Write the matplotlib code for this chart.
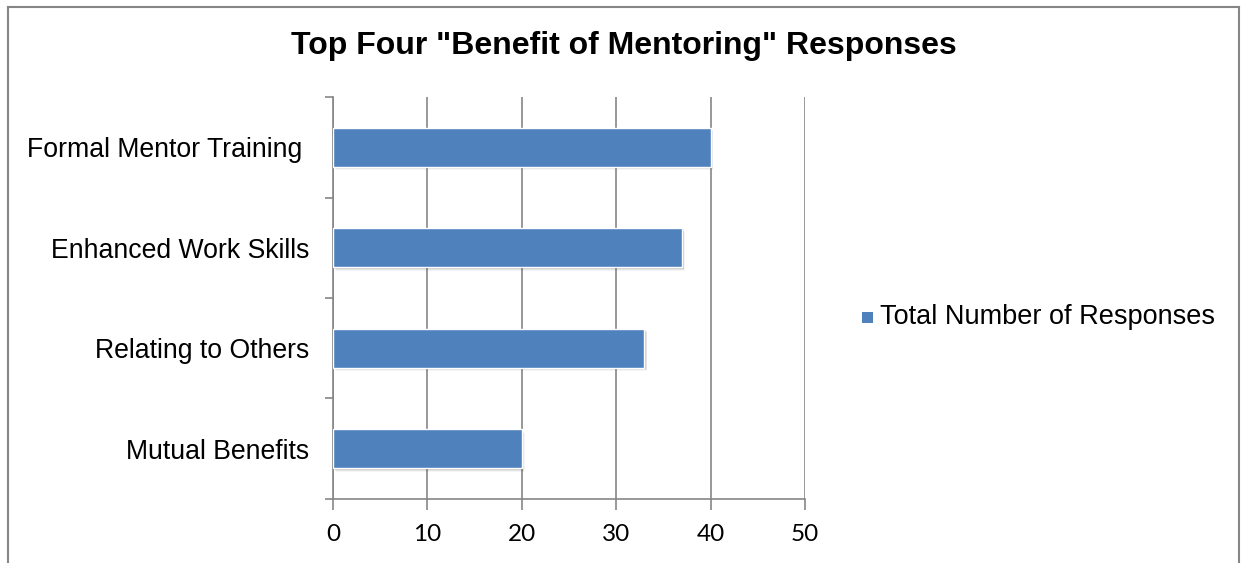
import matplotlib
matplotlib.use('Agg')
import matplotlib.pyplot as plt
from matplotlib.lines import Line2D
from matplotlib.patches import Rectangle
import numpy as np

categories = ["Mutual Benefits", "Relating to Others", "Enhanced Work Skills", "Formal Mentor Training "]
responses = [20, 33, 37, 40]
x_ticks = [0, 10, 20, 30, 40, 50]
series_name = "Total Number of Responses"

BAR_COLOR = '#4F81BD'
AXIS_GRAY = '#868686'

plt.rcParams['font.family'] = ['Liberation Sans', 'DejaVu Sans']

fig = plt.figure(figsize=(12.48, 5.63), dpi=100)
ax = fig.add_axes([0.2668, 0.1137, 0.3782, 0.714])

y = np.arange(len(categories))
bar_h = 0.39

# soft drop shadow under each bar
for yi, v in zip(y, responses):
    for k, a in enumerate([0.10, 0.07, 0.04]):
        off = 0.012 * (k + 1)
        ax.add_patch(Rectangle((0.15 + 0.08 * k, yi - bar_h / 2 - off), v, bar_h,
                               facecolor='black', alpha=a, edgecolor='none', zorder=2))

ax.barh(y, responses, height=bar_h, color=BAR_COLOR, edgecolor='white', linewidth=1.0, zorder=3)

ax.set_xlim(0, 50)
ax.set_ylim(-0.5, len(categories) - 0.5)
ax.set_xticks(x_ticks)
ax.set_xticklabels([str(t) for t in x_ticks], fontsize=17.5, family=['Lato', 'DejaVu Sans'])

# category labels between the boundary ticks
ax.set_yticks(np.arange(-0.5, len(categories), 1.0))
ax.set_yticklabels([])
ax.set_yticks(y, minor=True)
ax.set_yticklabels(categories, minor=True, fontsize=19.2)
ax.tick_params(axis='y', which='minor', length=0, pad=17)
ax.tick_params(axis='y', which='major', length=6, width=1.2, color=AXIS_GRAY, direction='out')
ax.tick_params(axis='x', length=8, width=1.2, color=AXIS_GRAY, direction='out', pad=10)

ax.grid(axis='x', color=AXIS_GRAY, linewidth=1.2, zorder=0)
ax.set_axisbelow(True)
for side in ['top', 'right']:
    ax.spines[side].set_visible(False)
for side in ['left', 'bottom']:
    ax.spines[side].set_color(AXIS_GRAY)
    ax.spines[side].set_linewidth(1.2)

fig.text(0.5, 1 - 46 / 563, 'Top Four "Benefit of Mentoring" Responses', ha='center', va='center',
         fontsize=23, fontweight='bold')

# legend
fig.add_artist(Rectangle((862 / 1248, 1 - 323 / 563), 11 / 1248, 11 / 563,
                         transform=fig.transFigure, facecolor=BAR_COLOR, edgecolor='none'))
fig.text(880 / 1248, 1 - 317 / 563, series_name, ha='left', va='center', fontsize=19.5)

# chart area frame
for xs, ys in [([8, 8], [563, 7]), ([8, 1239], [7, 7]), ([1239, 1239], [7, 563])]:
    fig.add_artist(Line2D([x / 1248 for x in xs], [1 - v / 563 for v in ys],
                          transform=fig.transFigure, color=AXIS_GRAY, linewidth=1.5))

fig.savefig('out.png', dpi=100)
